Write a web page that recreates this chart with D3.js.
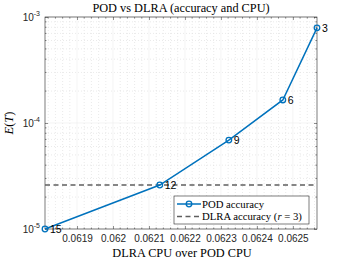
<!DOCTYPE html>
<html><head><meta charset="utf-8">
<script src="https://cdn.jsdelivr.net/npm/d3@7"></script>
<style>body{margin:0;background:#fff}svg{display:block}</style>
</head><body>
<script>
const ranks = [15, 12, 9, 6, 3];
const cpuRatio = [0.061811, 0.06213, 0.062322, 0.062472, 0.062567];
const podError = [1.0e-5, 2.6e-5, 6.9e-5, 1.65e-4, 7.9e-4];
const dlraError = 2.6e-5;
const xTicks = [0.0619, 0.062, 0.0621, 0.0622, 0.0623, 0.0624, 0.0625];
const xTickLabels = ["0.0619", "0.062", "0.0621", "0.0622", "0.0623", "0.0624", "0.0625"];
const yTicks = [1e-5, 1e-4, 1e-3];
const yTickExp = ["-5", "-4", "-3"];

const W = 350, H = 263;
const m = {l: 45, r: 33, t: 17, b: 34};
const svg = d3.select("body").append("svg").attr("width", W).attr("height", H);
const x = d3.scaleLinear().domain([d3.min(cpuRatio), d3.max(cpuRatio)]).range([m.l, W - m.r]);
const y = d3.scaleLog().domain([1e-5, 1e-3]).range([H - m.b, m.t]);
const x0 = m.l, x1 = W - m.r, y0 = H - m.b, y1 = m.t;

// minor grid
const xMinor = d3.range(0.06182, 0.06257, 0.00002).filter(v => xTicks.every(t => Math.abs(t - v) > 1e-7));
const yMinor = [];
[1e-5, 1e-4].forEach(d => { for (let k = 2; k <= 9; k++) yMinor.push(d * k); });
const g = svg.append("g");
g.selectAll(".xm").data(xMinor).join("line").attr("x1", d => x(d)).attr("x2", d => x(d))
  .attr("y1", y0).attr("y2", y1).attr("stroke", "#dcdcdc").attr("stroke-width", 0.6).attr("stroke-dasharray", "1,2");
g.selectAll(".ym").data(yMinor).join("line").attr("y1", d => y(d)).attr("y2", d => y(d))
  .attr("x1", x0).attr("x2", x1).attr("stroke", "#dcdcdc").attr("stroke-width", 0.6).attr("stroke-dasharray", "1,2");
// major grid
g.selectAll(".xg").data(xTicks).join("line").attr("x1", d => x(d)).attr("x2", d => x(d))
  .attr("y1", y0).attr("y2", y1).attr("stroke", "#ececec").attr("stroke-width", 0.6);
g.selectAll(".yg").data(yTicks).join("line").attr("y1", d => y(d)).attr("y2", d => y(d))
  .attr("x1", x0).attr("x2", x1).attr("stroke", "#ececec").attr("stroke-width", 0.6);

// axes
const fontSans = "'Liberation Sans', Arial, sans-serif";
const fontSerif = "'Liberation Serif', 'DejaVu Serif', serif";
const xAxis = svg.append("g").attr("transform", `translate(0,${y0})`)
  .call(d3.axisBottom(x).tickValues(xTicks).tickFormat((d, i) => xTickLabels[i]).tickSize(-3).tickPadding(6));
const xAxisTop = svg.append("g").attr("transform", `translate(0,${y1})`)
  .call(d3.axisTop(x).tickValues(xTicks).tickFormat("").tickSize(-3));
const yAxis = svg.append("g").attr("transform", `translate(${x0},0)`)
  .call(d3.axisLeft(y).tickValues(yTicks).tickFormat("").tickSize(-3));
const yAxisR = svg.append("g").attr("transform", `translate(${x1},0)`)
  .call(d3.axisRight(y).tickValues(yTicks).tickFormat("").tickSize(-3));
// minor ticks
const mt = svg.append("g").attr("stroke", "#262626").attr("stroke-width", 0.5);
xMinor.forEach(v => {
  mt.append("line").attr("x1", x(v)).attr("x2", x(v)).attr("y1", y0).attr("y2", y0 - 1.5);
  mt.append("line").attr("x1", x(v)).attr("x2", x(v)).attr("y1", y1).attr("y2", y1 + 1.5);
});
yMinor.forEach(v => {
  mt.append("line").attr("y1", y(v)).attr("y2", y(v)).attr("x1", x0).attr("x2", x0 + 1.5);
  mt.append("line").attr("y1", y(v)).attr("y2", y(v)).attr("x1", x1).attr("x2", x1 - 1.5);
});
[xAxis, xAxisTop, yAxis, yAxisR].forEach(a => {
  a.select(".domain").remove();
  a.selectAll("line").attr("stroke", "#262626").attr("stroke-width", 0.5);
  a.selectAll("text").attr("font-family", fontSans).attr("font-size", 10).attr("fill", "#262626");
});
svg.append("rect").attr("x", x0).attr("y", y1).attr("width", x1 - x0).attr("height", y0 - y1)
  .attr("fill", "none").attr("stroke", "#262626").attr("stroke-width", 0.6);

// y tick labels 10^k
yTicks.forEach((t, i) => {
  const tx = svg.append("text").attr("x", x0 - 5).attr("y", y(t) + 4).attr("text-anchor", "end")
    .attr("font-family", fontSans).attr("font-size", 10).attr("fill", "#262626");
  tx.append("tspan").text("10");
  tx.append("tspan").attr("dy", -5).attr("font-size", 7).text(yTickExp[i]);
});

// DLRA line
svg.append("line").attr("x1", x0).attr("x2", x1).attr("y1", y(dlraError)).attr("y2", y(dlraError))
  .attr("stroke", "#5f5f5f").attr("stroke-width", 1.5).attr("stroke-dasharray", "5,3.5");

// POD line
const pts = cpuRatio.map((c, i) => ({x: c, y: podError[i], r: ranks[i]}));
svg.append("path").datum(pts).attr("fill", "none").attr("stroke", "#0072BD").attr("stroke-width", 1.5)
  .attr("d", d3.line().x(d => x(d.x)).y(d => y(d.y)));
svg.selectAll(".pt").data(pts).join("circle").attr("cx", d => x(d.x)).attr("cy", d => y(d.y))
  .attr("r", 2.8).attr("fill", "none").attr("stroke", "#0072BD").attr("stroke-width", 1.3);
svg.selectAll(".lbl").data(pts).join("text").attr("x", d => x(d.x) + 5).attr("y", d => y(d.y) + 4)
  .attr("font-family", fontSans).attr("font-size", 10.5).attr("fill", "#000").text(d => d.r);

// title and labels
svg.append("text").attr("x", (x0 + x1) / 2).attr("y", 12).attr("text-anchor", "middle")
  .attr("font-family", fontSerif).attr("font-size", 12.3).attr("fill", "#000").text("POD vs DLRA (accuracy and CPU)");
svg.append("text").attr("x", (x0 + x1) / 2 + 1).attr("y", 257).attr("text-anchor", "middle")
  .attr("font-family", fontSerif).attr("font-size", 12.3).attr("fill", "#000").text("DLRA CPU over POD CPU");
const yl = svg.append("text").attr("transform", `translate(13,${(y0 + y1) / 2}) rotate(-90)`).attr("text-anchor", "middle")
  .attr("font-family", fontSerif).attr("font-size", 12.5).attr("fill", "#000");
yl.append("tspan").attr("font-style", "italic").text("E");
yl.append("tspan").text("(");
yl.append("tspan").attr("font-style", "italic").text("T");
yl.append("tspan").text(")");

// legend
const lg = svg.append("g").attr("transform", "translate(174,196)");
lg.append("rect").attr("width", 135).attr("height", 28).attr("fill", "#fff").attr("stroke", "#262626").attr("stroke-width", 0.6);
lg.append("line").attr("x1", 3).attr("x2", 27).attr("y1", 8).attr("y2", 8).attr("stroke", "#0072BD").attr("stroke-width", 1.5);
lg.append("circle").attr("cx", 15).attr("cy", 8).attr("r", 2.8).attr("fill", "none").attr("stroke", "#0072BD").attr("stroke-width", 1.3);
lg.append("text").attr("x", 28).attr("y", 11.5).attr("font-family", fontSerif).attr("font-size", 10.7).text("POD accuracy");
lg.append("line").attr("x1", 3).attr("x2", 27).attr("y1", 20.5).attr("y2", 20.5).attr("stroke", "#5f5f5f").attr("stroke-width", 1.5).attr("stroke-dasharray", "5,3.5");
const t2 = lg.append("text").attr("x", 28).attr("y", 24).attr("font-family", fontSerif).attr("font-size", 10.7);
t2.append("tspan").text("DLRA accuracy (");
t2.append("tspan").attr("font-style", "italic").text("r");
t2.append("tspan").text(" = 3)");
</script>
</body></html>
